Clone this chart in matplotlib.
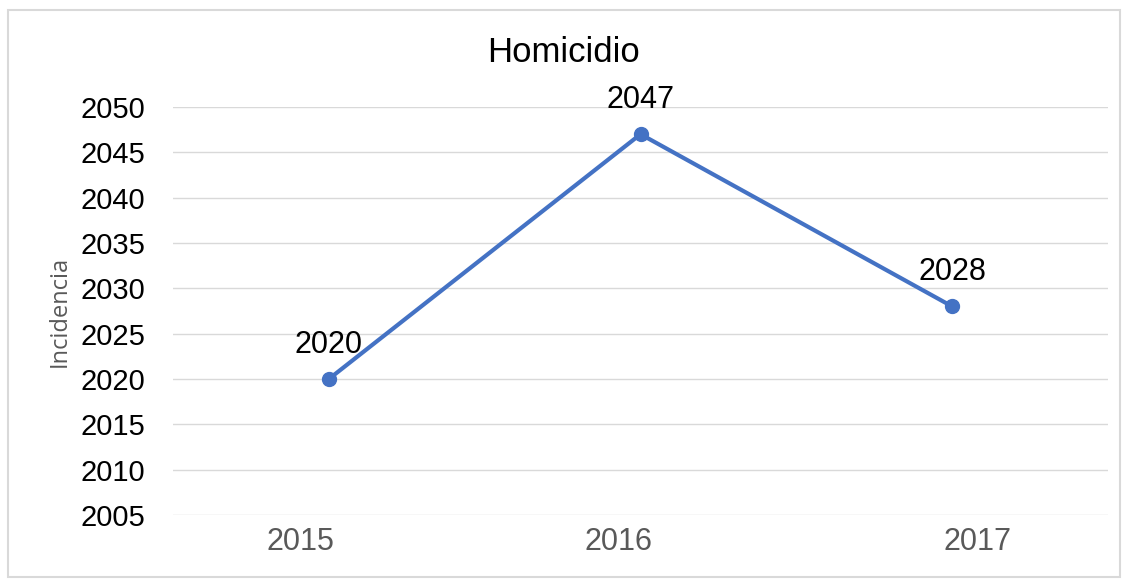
import matplotlib.pyplot as plt
from matplotlib.patches import Rectangle

years = ["2015", "2016", "2017"]
incidencia = [2020, 2047, 2028]
y_ticks = [2005, 2010, 2015, 2020, 2025, 2030, 2035, 2040, 2045, 2050]

plt.rcParams['font.family'] = ['Liberation Sans', 'DejaVu Sans']

fig = plt.figure(figsize=(11.28, 5.8), dpi=100)
ax = fig.add_axes([0.1534, 0.1121, 0.8289, 0.7034])

x = list(range(len(years)))
ax.plot(x, incidencia, color='#4472C4', linewidth=3, marker='o', markersize=10,
        solid_capstyle='round', zorder=3)
for xi, v in zip(x, incidencia):
    ax.annotate(str(v), (xi, v), xytext=(0, 14), textcoords='offset points',
                ha='center', va='bottom', fontsize=22, color='black')

ax.set_xlim(-0.5, len(years) - 0.5)
ax.set_ylim(2005, 2050)
ax.set_yticks(y_ticks)
# category labels sit slightly off the points in the original
ax.set_xticks([-0.09, 0.93, 2.08])
ax.set_xticklabels(years)
ax.tick_params(axis='y', length=0, labelsize=21, labelcolor='black', pad=20)
ax.tick_params(axis='x', length=0, labelsize=22, labelcolor='#595959', pad=9)
ax.yaxis.grid(True, color='#D9D9D9', linewidth=1)
ax.set_axisbelow(True)
for sp in ax.spines.values():
    sp.set_visible(False)

ax.set_ylabel("Incidencia", fontsize=17, color='#595959', family=['Open Sans', 'DejaVu Sans'])
ax.yaxis.set_label_coords(-0.108, 0.5)

fig.text(0.5, 0.91, "Homicidio", ha='center', va='center', fontsize=25, color='black')

fig.patches.append(Rectangle((8 / 1128, 3 / 580), 1112 / 1128, 567 / 580,
                             transform=fig.transFigure, fill=False,
                             edgecolor='#D9D9D9', linewidth=1.5))

fig.savefig("out.png", dpi=100)
